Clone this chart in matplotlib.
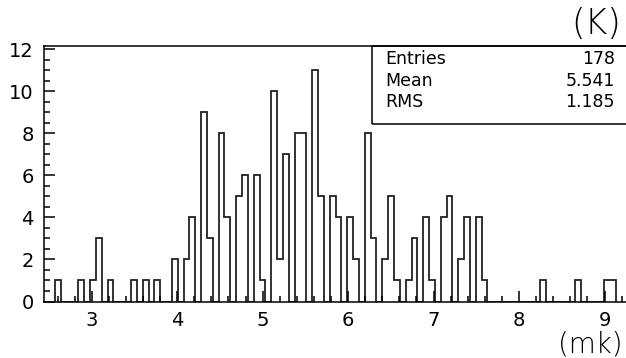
import numpy as np
import matplotlib.pyplot as plt
from matplotlib.ticker import MultipleLocator
from matplotlib.patches import Rectangle

# histogram contents (96 bins)
bin_start = 2.5706
bin_width = 0.06838
counts = [1, 0, 0, 0, 1, 0, 1, 3, 0, 1,
          0, 0, 0, 1, 0, 1, 0, 1, 0, 0,
          2, 0, 2, 4, 0, 9, 3, 0, 8, 4,
          0, 5, 6, 0, 6, 1, 0, 10, 2, 7,
          0, 8, 8, 0, 11, 5, 0, 5, 4, 0,
          4, 2, 0, 8, 3, 0, 2, 5, 1, 0,
          1, 3, 0, 4, 1, 0, 4, 5, 0, 2,
          4, 0, 4, 1, 0, 0, 0, 0, 0, 0,
          0, 0, 0, 1, 0, 0, 0, 0, 0, 1,
          0, 0, 0, 0, 1, 1]
stat_names = ["Entries", "Mean", "RMS"]
stat_values = ["178", "5.541", "1.185"]
x_title = "(mk)"
y_title = "(K)"

edges = bin_start + bin_width * np.arange(len(counts) + 1)

plt.rcParams['font.family'] = ['DejaVu Sans']

fig = plt.figure(figsize=(6.26, 3.58), dpi=100)
ax = fig.add_axes([43.5 / 626, 1 - 301.5 / 358, 586.5 / 626, 255.5 / 358])

ax.stairs(counts, edges, baseline=0, color="#222222", linewidth=1.3)

ax.set_xlim(2.436, 9.298)
ax.set_ylim(0, 12.16)

ax.xaxis.set_major_locator(MultipleLocator(1))
ax.xaxis.set_minor_locator(MultipleLocator(0.2))
ax.yaxis.set_major_locator(MultipleLocator(2))
ax.yaxis.set_minor_locator(MultipleLocator(0.5))
ax.set_xticks([3, 4, 5, 6, 7, 8, 9])
ax.tick_params(which="both", direction="in", top=False, right=False,
               labelsize=14, width=1.1)
ax.tick_params(which="major", length=8, pad=7)
ax.tick_params(which="minor", length=4.5)
for s in ax.spines.values():
    s.set_linewidth(1.1)

# stats box
ax.add_patch(Rectangle((0.5606, 0.6959), 0.5, 1 - 0.6959, transform=ax.transAxes,
                       fill=False, linewidth=1.1, clip_on=False))
rows_y = [1 - 59.3 / 358, 1 - 81 / 358, 1 - 102.3 / 358]
for name, val, yy in zip(stat_names, stat_values, rows_y):
    fig.text(385 / 626, yy, name, ha="left", va="center", fontsize=12.5)
    fig.text(615 / 626, yy, val, ha="right", va="center", fontsize=12.5)

fig.text(621 / 626, 1 - 24 / 358, y_title, ha="right", va="center",
         fontsize=25, fontweight=200, color="black")
fig.text(623 / 626, 0.0, x_title, ha="right", va="bottom",
         fontsize=20, fontweight=200, color="black")

fig.savefig("out.png", dpi=100)
